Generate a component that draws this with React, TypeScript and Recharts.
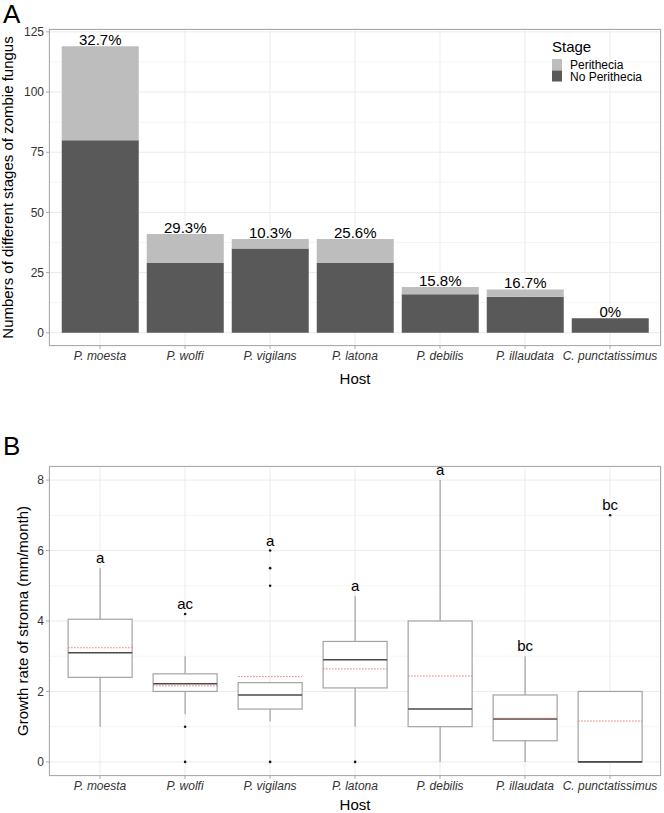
import React from "react";
import { BarChart, Bar, XAxis, YAxis, CartesianGrid, LabelList } from "recharts";

const FONT = "'Liberation Sans', Arial, sans-serif";

// Panel A: counts per host
const hosts = [
  "P. moesta",
  "P. wolfi",
  "P. vigilans",
  "P. latona",
  "P. debilis",
  "P. illaudata",
  "C. punctatissimus",
];
const noPerithecia = [80, 29, 35, 29, 16, 15, 6];
const perithecia = [39, 12, 4, 10, 3, 3, 0];
const pctLabels = ["32.7%", "29.3%", "10.3%", "25.6%", "15.8%", "16.7%", "0%"];
const countTicks = [0, 25, 50, 75, 100, 125];
const countMinor = [12.5, 37.5, 62.5, 87.5, 112.5];

// Panel B: growth rate box plots
const whiskerLow = [1.0, 1.35, 1.15, 1.0, 0, 0, 0];
const q1 = [2.4, 2.0, 1.5, 2.1, 1.0, 0.6, 0];
const median = [3.1, 2.22, 1.9, 2.9, 1.5, 1.22, 0];
const q3 = [4.05, 2.5, 2.25, 3.42, 4.0, 1.9, 2.0];
const whiskerHigh = [5.5, 3.0, 2.25, 4.7, 8.0, 3.0, 2.0];
const means = [3.24, 2.16, 2.42, 2.64, 2.44, 1.24, 1.16];
const outliers = [[], [4.2, 1.0, 0], [6.0, 5.5, 5.0, 0], [0], [], [], [7.0]];
const letters = ["a", "ac", "a", "a", "a", "bc", "bc"];
const rateTicks = [0, 2, 4, 6, 8];
const rateMinor = [1, 3, 5, 7];

const countData = hosts.map((host, i) => ({
  host,
  none: noPerithecia[i],
  peri: perithecia[i],
  total: noPerithecia[i] + perithecia[i],
  pct: pctLabels[i],
}));

const boxData = hosts.map((host, i) => ({
  host,
  range: [whiskerLow[i], whiskerHigh[i]],
  lo: whiskerLow[i],
  hi: whiskerHigh[i],
  q1: q1[i],
  median: median[i],
  q3: q3[i],
  mean: means[i],
  outliers: outliers[i],
  letter: letters[i],
}));

const LIGHT = "#bdbdbd";
const DARK = "#595959";
const GRID = "#ebebeb";
const GRID_MINOR = "#f5f5f5";
const FRAME = "#ababab";

const tickStyle = { fill: "#333", fontSize: 12 };
const xTickStyle = { fill: "#333", fontSize: 12, fontStyle: "italic" };

// whole box plot drawn inside the range bar [whisker low, whisker high]
function BoxShape(props: any) {
  const { x, y, width, height, payload } = props;
  const top = Math.min(y, y + height);
  const bot = Math.max(y, y + height);
  const { lo, hi } = payload;
  const toY = (v: number) => bot - ((v - lo) / (hi - lo)) * (bot - top);
  const cx = x + width / 2;
  const yQ1 = toY(payload.q1);
  const yQ3 = toY(payload.q3);
  const pts: number[] = payload.outliers.map((v: number) => toY(v));
  const highest = Math.min(top, ...pts);
  const line = "#a3a3a3";
  return (
    <g>
      <line x1={cx} x2={cx} y1={top} y2={yQ3} stroke={line} strokeWidth={1.2} />
      <line x1={cx} x2={cx} y1={yQ1} y2={bot} stroke={line} strokeWidth={1.2} />
      <rect x={x} y={yQ3} width={width} height={yQ1 - yQ3} fill="#fff" stroke={line} strokeWidth={1.2} />
      <line
        x1={x}
        x2={x + width}
        y1={toY(payload.median)}
        y2={toY(payload.median)}
        stroke="#4a4a4a"
        strokeWidth={1.6}
      />
      <line
        x1={x}
        x2={x + width}
        y1={toY(payload.mean)}
        y2={toY(payload.mean)}
        stroke="#f07070"
        strokeWidth={1}
        strokeDasharray="1.5 1.5"
      />
      {pts.map((py, i) => (
        <circle key={i} cx={cx} cy={py} r={1.3} fill="#1a1a1a" />
      ))}
      <text x={cx} y={highest - 5} textAnchor="middle" fontSize={15} fill="#000">
        {payload.letter}
      </text>
    </g>
  );
}

function Frame({ left, top, width, height }: { left: number; top: number; width: number; height: number }) {
  return (
    <div
      style={{
        position: "absolute",
        left,
        top,
        width,
        height,
        border: `1px solid ${FRAME}`,
        boxSizing: "border-box",
        pointerEvents: "none",
      }}
    />
  );
}

export default function App() {
  return (
    <div
      style={{
        position: "absolute",
        left: 0,
        top: 0,
        width: 664,
        height: 813,
        background: "#fff",
        fontFamily: FONT,
      }}
    >
      {/* Panel A */}
      <div style={{ position: "absolute", left: 0, top: 0 }}>
        <BarChart
          width={664}
          height={400}
          data={countData}
          margin={{ top: 29, right: 3, bottom: 0, left: 0 }}
          barCategoryGap="5%"
        >
          <CartesianGrid stroke={GRID_MINOR} vertical={false} horizontalValues={countMinor} />
          <CartesianGrid stroke={GRID} />
          <XAxis
            dataKey="host"
            padding={{ left: 8.5, right: 8.5 }}
            axisLine={false}
            tickSize={3}
            tickMargin={2}
            tickLine={{ stroke: FRAME }}
            tick={xTickStyle}
            interval={0}
            height={54}
            label={{ value: "Host", position: "insideBottom", offset: 16, fill: "#000", fontSize: 15 }}
          />
          {/* hidden axis so the total labels sit on an unstacked, invisible bar */}
          <XAxis xAxisId="tot" dataKey="host" hide padding={{ left: 8.5, right: 8.5 }} />
          <YAxis
            type="number"
            domain={[-5.5, 126.2]}
            allowDataOverflow
            ticks={countTicks}
            width={49}
            axisLine={false}
            tickSize={3}
            tickMargin={2}
            tickLine={{ stroke: FRAME }}
            tick={tickStyle}
            label={{
              value: "Numbers of different stages of zombie fungus",
              angle: -90,
              position: "insideLeft",
              offset: 8,
              fill: "#000",
              fontSize: 15,
              style: { textAnchor: "middle" },
            }}
          />
          <Bar dataKey="none" stackId="s" fill={DARK} isAnimationActive={false} />
          <Bar dataKey="peri" stackId="s" fill={LIGHT} isAnimationActive={false} />
          <Bar dataKey="total" xAxisId="tot" fill="transparent" isAnimationActive={false}>
            <LabelList dataKey="pct" position="top" offset={1} fill="#000" fontSize={15} />
          </Bar>
        </BarChart>
        <Frame left={49} top={29} width={612} height={317} />
      </div>

      {/* Panel B */}
      <div style={{ position: "absolute", left: 0, top: 400 }}>
        <BarChart
          width={664}
          height={413}
          data={boxData}
          margin={{ top: 66, right: 3, bottom: 0, left: 0 }}
          barCategoryGap="12.5%"
        >
          <CartesianGrid stroke={GRID_MINOR} vertical={false} horizontalValues={rateMinor} />
          <CartesianGrid stroke={GRID} />
          <XAxis
            dataKey="host"
            padding={{ left: 8.5, right: 8.5 }}
            axisLine={false}
            tickSize={3}
            tickMargin={2}
            tickLine={{ stroke: FRAME }}
            tick={xTickStyle}
            interval={0}
            height={37}
            label={{ value: "Host", position: "insideBottom", offset: 3, fill: "#000", fontSize: 15 }}
          />
          <YAxis
            type="number"
            domain={[-0.4, 8.4]}
            allowDataOverflow
            ticks={rateTicks}
            width={49}
            axisLine={false}
            tickSize={3}
            tickMargin={2}
            tickLine={{ stroke: FRAME }}
            tick={tickStyle}
            label={{
              value: "Growth rate of stroma (mm/month)",
              angle: -90,
              position: "insideLeft",
              offset: 23,
              fill: "#000",
              fontSize: 15,
              style: { textAnchor: "middle" },
            }}
          />
          <Bar dataKey="range" isAnimationActive={false} shape={(p: any) => <BoxShape {...p} />} />
        </BarChart>
        <Frame left={49} top={66} width={612} height={310} />
      </div>

      {/* panel letters and legend */}
      <svg
        width={664}
        height={813}
        style={{ position: "absolute", left: 0, top: 0, pointerEvents: "none" }}
      >
        <text x={3} y={23} fontSize={26} fill="#000">A</text>
        <text x={3} y={455} fontSize={26} fill="#000">B</text>
        <text x={552} y={52} fontSize={15} fill="#000">Stage</text>
        <rect x={552} y={59} width={10} height={11.5} fill={LIGHT} />
        <rect x={552} y={70.5} width={10} height={11} fill={DARK} />
        <text x={570} y={68.5} fontSize={12} fill="#000">Perithecia</text>
        <text x={570} y={80.5} fontSize={12} fill="#000">No Perithecia</text>
      </svg>
    </div>
  );
}
